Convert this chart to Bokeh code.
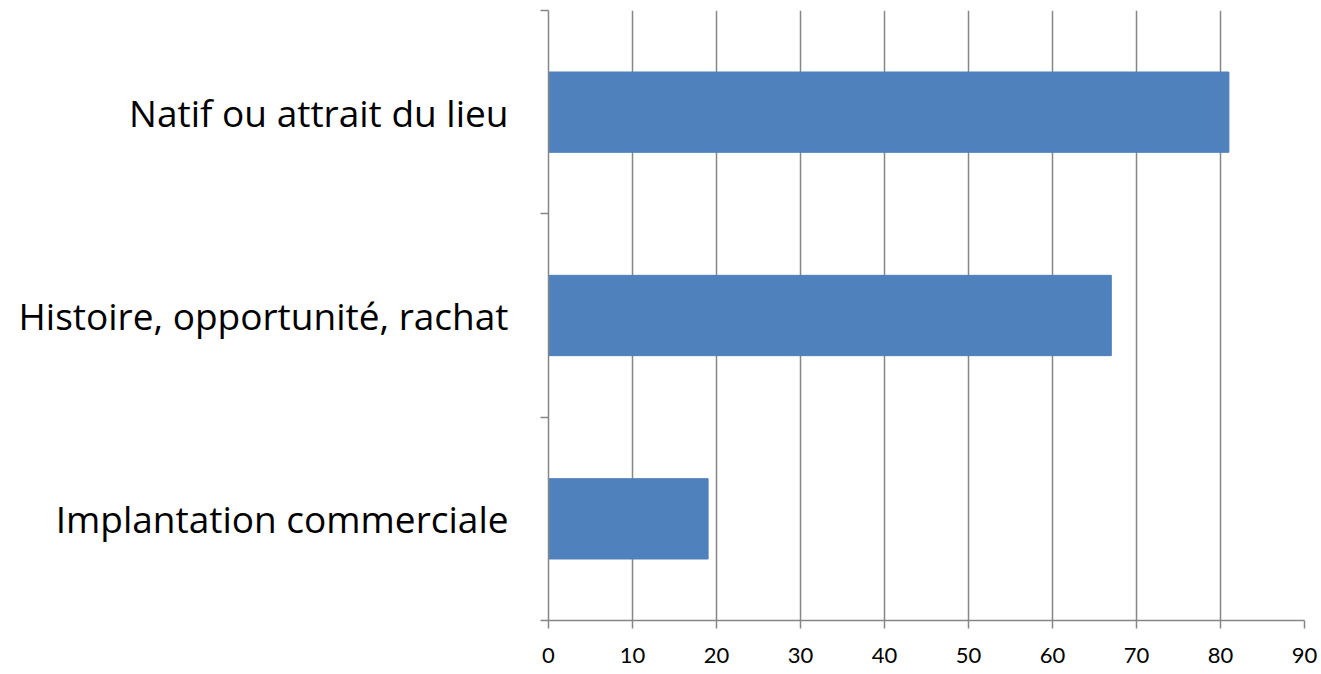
from bokeh.plotting import figure
from bokeh.models import FixedTicker, Range1d
from bokeh.embed import file_html
from bokeh.resources import INLINE

categories = ["Implantation commerciale", "Histoire, opportunité, rachat", "Natif ou attrait du lieu"]
values = [19, 67, 81]
x_ticks = [0, 10, 20, 30, 40, 50, 60, 70, 80, 90]

positions = [i + 0.5 for i in range(len(categories))]

p = figure(frame_width=756, frame_height=610, output_backend="svg", toolbar_location=None,
           x_range=Range1d(0, 90), y_range=Range1d(0, 3),
           min_border_left=548, min_border_top=10, min_border_right=16, min_border_bottom=0)
p.outline_line_color = None
p.background_fill_color = "white"

p.hbar(y=positions, right=values, left=0, height=0.395, color="#4F81BD", line_color="#4F81BD")

grey = "#868686"

xa = p.xaxis[0]
xa.ticker = FixedTicker(ticks=x_ticks, minor_ticks=[])
xa.axis_line_color = grey
xa.axis_line_width = 1.5
xa.major_tick_line_color = grey
xa.major_tick_line_width = 1.5
xa.major_tick_in = 0
xa.major_tick_out = 8
xa.minor_tick_line_color = None
xa.major_label_text_font = "Lato"
xa.major_label_text_font_size = "22px"
xa.major_label_text_color = "black"
xa.major_label_standoff = 19

ya = p.yaxis[0]
ya.ticker = FixedTicker(ticks=positions, minor_ticks=[0, 1, 2, 3])
ya.major_label_overrides = {pos: c for pos, c in zip(positions, categories)}
ya.axis_line_color = grey
ya.axis_line_width = 1.5
ya.major_tick_line_color = None
ya.major_tick_in = 0
ya.major_tick_out = 0
ya.minor_tick_line_color = grey
ya.minor_tick_line_width = 1.5
ya.minor_tick_in = 0
ya.minor_tick_out = 8
ya.major_label_text_font = "Open Sans"
ya.major_label_text_font_size = "37px"
ya.major_label_text_color = "black"
ya.major_label_standoff = 32

p.xgrid.ticker = FixedTicker(ticks=x_ticks)
p.xgrid.grid_line_color = grey
p.xgrid.grid_line_width = 1.5
p.ygrid.grid_line_color = None

open("out.html", "w").write(file_html(p, INLINE))
